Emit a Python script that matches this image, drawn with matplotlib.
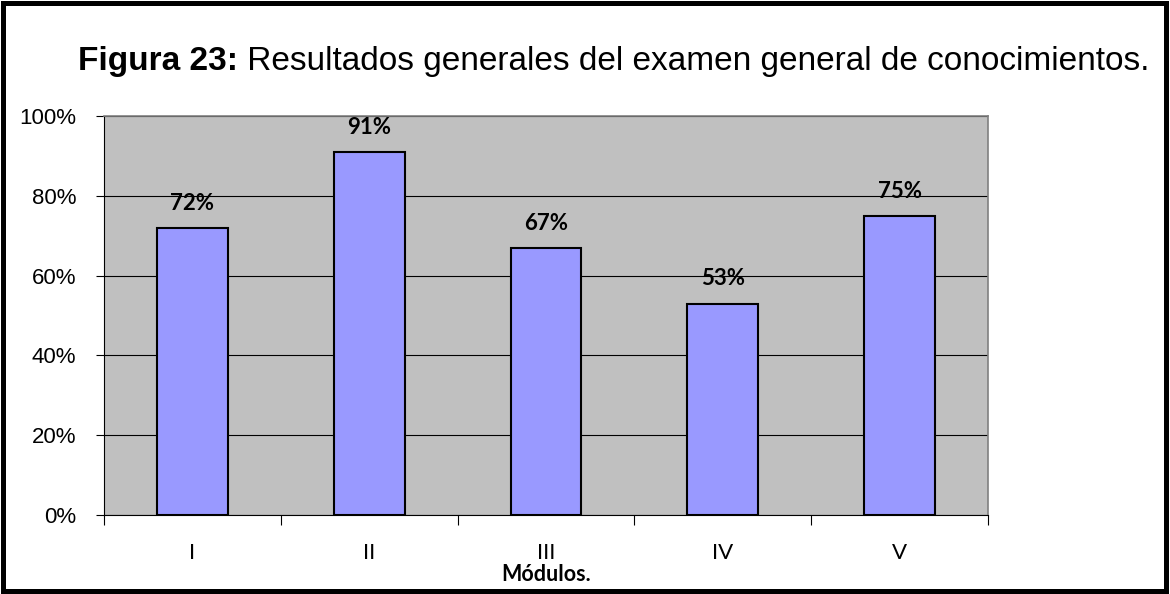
import matplotlib
matplotlib.use("agg")

import matplotlib.pyplot as plt
from matplotlib.patches import Rectangle
from matplotlib.ticker import FuncFormatter, MultipleLocator

# data
modulos = ["I", "II", "III", "IV", "V"]
resultados = [72, 91, 67, 53, 75]

TITLE_BOLD = "Figura 23:"
TITLE_REST = " Resultados generales del examen general de conocimientos."
XLABEL = "Módulos."

fig = plt.figure(figsize=(11.7, 5.94), dpi=100)
ax = fig.add_axes([104 / 1170, 1 - 515 / 594, 884 / 1170, 399 / 594])

xs = list(range(len(modulos)))
ax.set_facecolor("#C0C0C0")
ax.bar(xs, resultados, width=0.4, color="#9999FF", edgecolor="black",
       linewidth=1.5, zorder=3)

for x, v in zip(xs, resultados):
    ax.annotate(f"{v}%", xy=(x, v), xytext=(0, 13), textcoords="offset points",
                ha="center", va="baseline", fontsize=16, fontweight="bold",
                family=["Lato", "DejaVu Sans"], zorder=4)

ax.set_xlim(-0.5, len(modulos) - 0.5)
ax.set_ylim(0, 100)

# y axis
ax.yaxis.set_major_locator(MultipleLocator(20))
ax.yaxis.set_major_formatter(FuncFormatter(lambda v, p: f"{int(v)}%"))
ax.yaxis.grid(True, color="black", linewidth=0.8, zorder=1)
ax.set_axisbelow(True)
ax.tick_params(axis="y", length=6, width=0.8, pad=14, labelsize=16)
for lab in ax.get_yticklabels():
    lab.set_family(["Liberation Sans", "DejaVu Sans"])

# x axis: ticks between categories, labels at centres
ax.set_xticks([i - 0.5 for i in range(len(modulos) + 1)])
ax.set_xticklabels([])
ax.set_xticks(xs, minor=True)
ax.set_xticklabels(modulos, minor=True, fontsize=16,
                   family=["Lato", "DejaVu Sans"])
ax.tick_params(axis="x", which="major", length=7, width=0.8)
ax.tick_params(axis="x", which="minor", length=0, pad=20)
ax.set_xlabel(XLABEL, fontsize=15.5, fontweight="bold",
              family=["Lato", "DejaVu Sans"], labelpad=1)

for side in ["top", "right"]:
    ax.spines[side].set_color("#808080")
    ax.spines[side].set_linewidth(1.2)
for side in ["left", "bottom"]:
    ax.spines[side].set_color("black")
    ax.spines[side].set_linewidth(0.8)

# title in two weights
t1 = fig.text(78 / 1170, 1 - 70 / 594, TITLE_BOLD, fontsize=24, fontweight="bold",
              family=["Liberation Sans", "DejaVu Sans"], ha="left", va="baseline")
fig.canvas.draw()
bb = t1.get_window_extent()
fig.text(bb.x1 / fig.bbox.width, 1 - 70 / 594, TITLE_REST, fontsize=24,
         family=["Liberation Sans", "DejaVu Sans"], ha="left", va="baseline")

# outer frame
fig.patches.append(Rectangle((2.5 / 1170, 3.5 / 594), 1163 / 1170, 588 / 594,
                             transform=fig.transFigure, fill=False,
                             edgecolor="black", linewidth=3.6))

fig.savefig("out.png", dpi=100)
